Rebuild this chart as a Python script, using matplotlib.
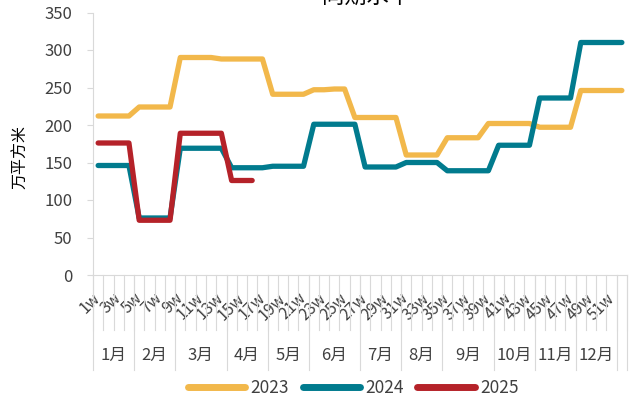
import numpy as np
import matplotlib
matplotlib.use('Agg')
import matplotlib.pyplot as plt
import matplotlib.transforms as mtransforms

plt.rcParams['font.family'] = ['Noto Sans CJK SC', 'DejaVu Sans']

# weekly values, 万平方米
weeks = ['%dw' % w for w in range(1, 53)]
y2023 = [212, 212, 212, 212, 224, 224, 224, 224, 290, 290, 290, 290, 288,
         288, 288, 288, 288, 241, 241, 241, 241, 247, 247, 248, 248, 210,
         210, 210, 210, 210, 160, 160, 160, 160, 183, 183, 183, 183, 202,
         202, 202, 202, 202, 197, 197, 197, 197, 246, 246, 246, 246, 246]
y2024 = [146, 146, 146, 146, 76, 76, 76, 76, 169, 169, 169, 169, 169,
         143, 143, 143, 143, 145, 145, 145, 145, 201, 201, 201, 201, 201,
         144, 144, 144, 144, 150, 150, 150, 150, 139, 139, 139, 139, 139,
         173, 173, 173, 173, 236, 236, 236, 236, 310, 310, 310, 310, 310]
y2025 = [176, 176, 176, 176, 73, 73, 73, 73, 189, 189, 189, 189, 189,
         126, 126, 126]

month_labels = ['1月', '2月', '3月', '4月', '5月', '6月', '7月', '8月',
                '9月', '10月', '11月', '12月', '']
month_weeks = [4, 4, 5, 4, 4, 5, 4, 4, 5, 4, 4, 4, 1]

series = [('2023', y2023, '#F2B84B'),
          ('2024', y2024, '#017B8E'),
          ('2025', y2025, '#B52229')]

text_color = '#404040'
grid_color = '#D9D9D9'

fig = plt.figure(figsize=(6.31, 4.0), dpi=100)
ax = fig.add_axes([93 / 631, 1 - 275 / 400, 534 / 631, 262.5 / 400])

for name, vals, col in series:
    ax.plot(np.arange(len(vals)), vals, color=col, linewidth=3.8, label=name,
            solid_capstyle='round', solid_joinstyle='round')

ax.set_xlim(-0.5, len(weeks) - 0.5)
ax.set_ylim(0, 350)
ax.set_yticks(np.arange(0, 351, 50))
ax.tick_params(axis='y', colors=grid_color, labelcolor=text_color,
               labelsize=12, length=4, pad=11)

# week labels every other week
ax.set_xticks(np.arange(0, len(weeks), 2))
ax.set_xticklabels(weeks[::2], rotation=45, ha='right', va='center',
                   rotation_mode='anchor', fontsize=11.5, color=text_color)
ax.tick_params(axis='x', length=0, pad=15)

for s in ['top', 'right']:
    ax.spines[s].set_visible(False)
for s in ['left', 'bottom']:
    ax.spines[s].set_color(grid_color)

# multi-level category axis separators
trans = mtransforms.blended_transform_factory(ax.transData, ax.transAxes)
short_y = (275 - 330) / 262.5
long_y = (275 - 370) / 262.5
for i in range(len(weeks) + 1):
    ax.plot([i - 0.5, i - 0.5], [0, short_y], color=grid_color, lw=0.8,
            transform=trans, clip_on=False)
start = 0
for lab, n in zip(month_labels, month_weeks):
    ax.plot([start - 0.5, start - 0.5], [0, long_y], color=grid_color, lw=0.8,
            transform=trans, clip_on=False)
    ax.text(start + n / 2 - 0.5, (275 - 355) / 262.5, lab, transform=trans,
            ha='center', va='center', fontsize=12, color=text_color)
    start += n
ax.plot([start - 0.5, start - 0.5], [0, long_y], color=grid_color, lw=0.8,
        transform=trans, clip_on=False)

fig.text(21 / 631, 1 - 157 / 400, '万平方米', rotation=90, ha='center',
         va='center', fontsize=11.5, fontweight='medium', color='black')
fig.text(367 / 631, 1 - 8 / 400, '同期水平', ha='center', va='bottom',
         fontsize=16, color='black')

leg = fig.legend(loc='center', bbox_to_anchor=(353 / 631, 1 - 388 / 400),
                 ncol=3, frameon=False, fontsize=12.5, handlelength=3.3,
                 handletextpad=0.3, columnspacing=0.8)
for line in leg.get_lines():
    line.set_linewidth(5)
for t in leg.get_texts():
    t.set_color(text_color)

fig.savefig('out.png', dpi=100)
